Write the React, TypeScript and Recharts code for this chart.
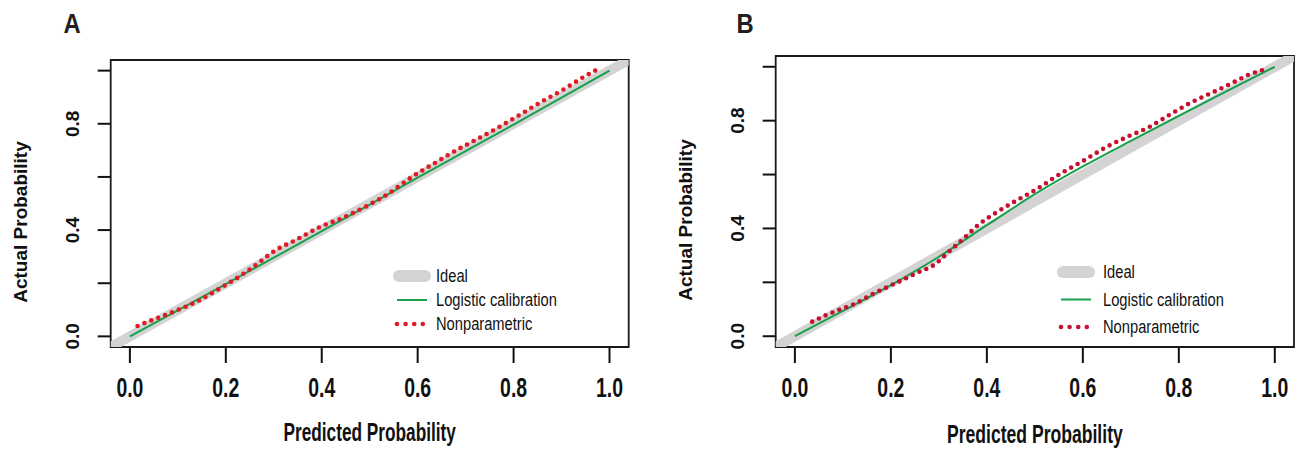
import React from 'react';
import { LineChart, Line, XAxis, YAxis, ReferenceArea, Legend } from 'recharts';

// axis ticks (R style: every 0.2, only some y ticks labelled)
const xTicks = [0, 0.2, 0.4, 0.6, 0.8, 1.0];
const yTicks = [0, 0.2, 0.4, 0.6, 0.8, 1.0];
const yLabelled = [0, 0.4, 0.8];
const plotLimits = [-0.04, 1.04];

const legendLabels = ['Ideal', 'Logistic calibration', 'Nonparametric'];

// ideal line y = x across the plot limits
const idealX = [-0.04, 1.04];

// logistic calibration curves
const logisticX = [0, 0.1, 0.2, 0.3, 0.4, 0.5, 0.6, 0.7, 0.8, 0.9, 1.0];
const logisticA = [0, 0.098, 0.197, 0.296, 0.396, 0.496, 0.597, 0.697, 0.797, 0.898, 1.0];
const logisticB = [0, 0.094, 0.19, 0.295, 0.412, 0.527, 0.63, 0.725, 0.818, 0.91, 1.0];

// nonparametric (loess) curves
const nonparAX = [0.016, 0.033, 0.058, 0.09, 0.146, 0.189, 0.233, 0.263, 0.302, 0.346, 0.398, 0.441, 0.485, 0.537, 0.589, 0.641, 0.684, 0.728, 0.771, 0.815, 0.858, 0.902, 0.945, 0.971];
const nonparAY = [0.039, 0.052, 0.069, 0.092, 0.137, 0.182, 0.231, 0.269, 0.322, 0.363, 0.413, 0.444, 0.482, 0.535, 0.601, 0.658, 0.704, 0.746, 0.789, 0.836, 0.883, 0.927, 0.975, 1.001];

const nonparBX = [0.036, 0.066, 0.092, 0.122, 0.165, 0.209, 0.252, 0.295, 0.321, 0.352, 0.382, 0.417, 0.46, 0.503, 0.555, 0.598, 0.65, 0.694, 0.737, 0.78, 0.823, 0.867, 0.91, 0.945, 0.975];
const nonparBY = [0.054, 0.079, 0.098, 0.118, 0.159, 0.196, 0.233, 0.271, 0.314, 0.363, 0.413, 0.456, 0.502, 0.545, 0.605, 0.648, 0.703, 0.741, 0.775, 0.821, 0.865, 0.902, 0.939, 0.97, 0.988];

const FONT = '"Liberation Sans", Arial, sans-serif';
const GRAY = '#d3d3d3';
const GREEN = '#17a04b';

const toPoints = (xs: number[], ys: number[]) => xs.map((x, i) => ({ x, y: ys[i] }));

type PanelProps = {
  letter: string;
  left: number;
  margin: { top: number; right: number; bottom: number; left: number };
  logistic: number[];
  nonparX: number[];
  nonparY: number[];
  red: string;
  yLabelX: number;
  titleX: number;
  titleY: number;
  xTitleY: number;
  xTitleSize: number;
  letterX: number;
  legendLeft: number;
  legendTop: number;
  legendGap: number;
  legendTextX: number;
};

const W = 649;
const H = 449;

const Panel = (p: PanelProps) => {
  const ideal = idealX.map((v) => ({ x: v, y: v }));
  const logistic = toPoints(logisticX, p.logistic);
  const nonpar = toPoints(p.nonparX, p.nonparY);
  const plotW = W - p.margin.left - p.margin.right - 40;
  const xCenter = p.margin.left + 40 + ((0.5 - plotLimits[0]) / (plotLimits[1] - plotLimits[0])) * plotW;

  const XTick = (props: any) => (
    <text
      transform={`translate(${props.x},397) scale(0.72,1)`}
      textAnchor="middle"
      fontFamily={FONT}
      fontWeight={700}
      fontSize={27}
      fill="#111"
    >
      {Number(props.payload.value).toFixed(1)}
    </text>
  );

  const YTick = (props: any) => {
    const v = Number(props.payload.value);
    if (!yLabelled.some((t) => Math.abs(t - v) < 1e-6)) return <g />;
    return (
      <text
        transform={`translate(${p.yLabelX},${props.y}) rotate(-90)`}
        textAnchor="middle"
        fontFamily={FONT}
        fontWeight={700}
        fontSize={19}
        fill="#111"
      >
        {v.toFixed(1)}
      </text>
    );
  };

  const LegendBox = () => (
    <svg width={230} height={90}>
      {legendLabels.map((label, i) => {
        const cy = 12 + i * p.legendGap;
        return (
          <g key={label}>
            {i === 0 && <line x1={9} x2={35} y1={cy} y2={cy} stroke={GRAY} strokeWidth={12} strokeLinecap="round" />}
            {i === 1 && <line x1={7} x2={37} y1={cy} y2={cy} stroke={GREEN} strokeWidth={2} />}
            {i === 2 &&
              [0, 1, 2, 3].map((k) => <circle key={k} cx={7 + k * 8.6} cy={cy} r={2.3} fill={p.red} />)}
            <text
              transform={`translate(${p.legendTextX},${cy + 6}) scale(0.84,1)`}
              fontFamily={FONT}
              fontSize={17.5}
              fill="#111"
            >
              {label}
            </text>
          </g>
        );
      })}
    </svg>
  );

  return (
    <div style={{ position: 'absolute', left: p.left, top: 0, width: W, height: H }}>
      <LineChart width={W} height={H} margin={p.margin}>
        <XAxis
          dataKey="x"
          type="number"
          domain={plotLimits}
          ticks={xTicks}
          interval={0}
          allowDataOverflow
          axisLine={false}
          tickSize={16}
          tickLine={{ stroke: '#111', strokeWidth: 2 }}
          tick={<XTick />}
          height={50}
        />
        <YAxis
          dataKey="y"
          type="number"
          domain={plotLimits}
          ticks={yTicks}
          interval={0}
          allowDataOverflow
          axisLine={false}
          tickSize={13}
          tickLine={{ stroke: '#111', strokeWidth: 2 }}
          tick={<YTick />}
          width={40}
        />
        <Line data={ideal} dataKey="y" stroke={GRAY} strokeWidth={10} dot={false} isAnimationActive={false} legendType="none" />
        <Line data={logistic} dataKey="y" type="monotone" stroke={GREEN} strokeWidth={2} dot={false} isAnimationActive={false} legendType="none" />
        <Line
          data={nonpar}
          dataKey="y"
          type="monotone"
          stroke={p.red}
          strokeWidth={4.6}
          strokeDasharray="0 7.4"
          strokeLinecap="round"
          dot={false}
          isAnimationActive={false}
          legendType="none"
        />
        <ReferenceArea x1={plotLimits[0]} x2={plotLimits[1]} y1={plotLimits[0]} y2={plotLimits[1]} fill="none" stroke="#1a1a1a" strokeWidth={1.8} />
        <Legend
          layout="vertical"
          align="center"
          verticalAlign="middle"
          content={() => <LegendBox />}
          wrapperStyle={{ left: p.legendLeft, top: p.legendTop, width: 230, height: 90 }}
        />
      </LineChart>
      <svg width={W} height={H} style={{ position: 'absolute', left: 0, top: 0, pointerEvents: 'none' }}>
        <text
          transform={`translate(${p.letterX},33) scale(0.85,1)`}
          textAnchor="middle"
          fontFamily={FONT}
          fontWeight={700}
          fontSize={28}
          fill="#231f20"
        >
          {p.letter}
        </text>
        <text
          transform={`translate(${p.titleX},${p.titleY}) rotate(-90)`}
          textAnchor="middle"
          fontFamily={FONT}
          fontWeight={700}
          fontSize={19}
          fill="#111"
        >
          Actual Probability
        </text>
        <text
          transform={`translate(${xCenter},${p.xTitleY}) scale(0.69,1)`}
          textAnchor="middle"
          fontFamily={FONT}
          fontWeight={700}
          fontSize={p.xTitleSize}
          fill="#111"
        >
          Predicted Probability
        </text>
      </svg>
    </div>
  );
};

export default function App() {
  return (
    <div style={{ position: 'absolute', left: 0, top: 0, width: 1298, height: 449, background: '#fff' }}>
      <Panel
        letter="A"
        left={0}
        margin={{ top: 60, right: 20.3, bottom: 52, left: 70.7 }}
        logistic={logisticA}
        nonparX={nonparAX}
        nonparY={nonparAY}
        red="#e01b24"
        yLabelX={79}
        titleX={27}
        titleY={222}
        xTitleY={441}
        xTitleSize={25}
        letterX={72}
        legendLeft={390}
        legendTop={264}
        legendGap={24}
        legendTextX={46}
      />
      <Panel
        letter="B"
        left={649}
        margin={{ top: 56, right: 4, bottom: 52, left: 86.7 }}
        logistic={logisticB}
        nonparX={nonparBX}
        nonparY={nonparBY}
        red="#c8102e"
        yLabelX={95}
        titleX={43}
        titleY={220}
        xTitleY={443}
        xTitleSize={25.5}
        letterX={96}
        legendLeft={405}
        legendTop={260}
        legendGap={27.5}
        legendTextX={49}
      />
    </div>
  );
}
